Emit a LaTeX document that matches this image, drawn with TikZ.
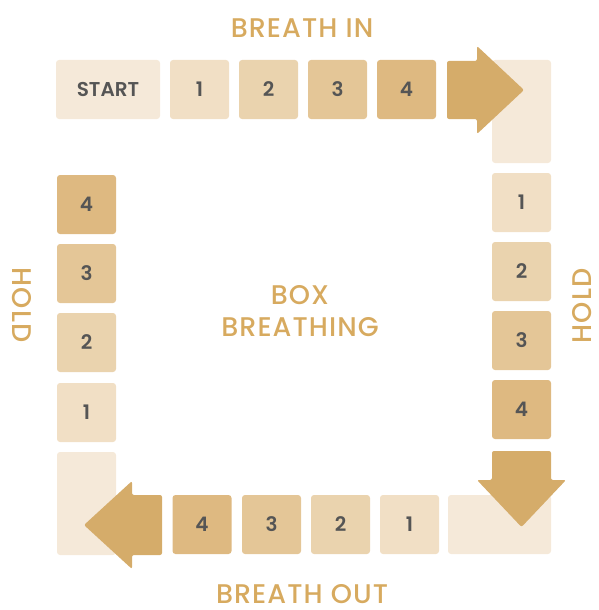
\documentclass[tikz,border=0pt]{standalone}
\usepackage{fontspec}
\setmainfont{Poppins}
\newfontfamily\titlefont{Poppins Medium}[LetterSpace=4]
\newfontfamily\numfont{Poppins SemiBold}
\definecolor{c0}{HTML}{F5E9D9}
\definecolor{c1}{HTML}{F1DFC5}
\definecolor{c2}{HTML}{EAD3AE}
\definecolor{c3}{HTML}{E4C697}
\definecolor{c4}{HTML}{DEB981}
\definecolor{arr}{HTML}{D5AC6A}
\definecolor{ttl}{HTML}{D7AA5F}
\definecolor{num}{HTML}{555555}
\tikzset{
  cell/.style={rectangle, rounded corners=3pt, inner sep=0pt, minimum width=59pt, minimum height=59pt, text=num, font=\numfont\fontsize{20}{20}\selectfont},
  title/.style={text=ttl, font=\titlefont\fontsize{27}{32}\selectfont, align=center, inner sep=0pt},
  arrowshape/.style={fill=arr, rounded corners=2pt}
}
\begin{document}
\begin{tikzpicture}[x=1pt,y=-1pt]
\useasboundingbox (0,0) rectangle (598,610);
% titles
\node[title] (tin) at (302,28) {BREATH IN};
\node[title] (tout) at (302,594) {BREATH OUT};
\node[title] (tbox) at (300,311) {BOX\\BREATHING};
\node[title, rotate=-90] (hl) at (22,305) {HOLD};
\node[title, rotate=90] (hr) at (582,306) {HOLD};
% corner light boxes
\node[cell, fill=c0, minimum height=103pt] (cr) at (521.5,111.5) {};
\node[cell, fill=c0, minimum width=103pt] (cb) at (499.5,524.5) {};
\node[cell, fill=c0, minimum height=103pt] (cl) at (86.5,503.5) {};
% top row
\node[cell, fill=c0, minimum width=104pt] (start) at (108,89.5) {START};
\node[cell, fill=c1] (t1) at (199.5,89.5) {1};
\node[cell, fill=c2] (t2) at (268.5,89.5) {2};
\node[cell, fill=c3] (t3) at (337.5,89.5) {3};
\node[cell, fill=c4] (t4) at (406.5,89.5) {4};
% right column
\node[cell, fill=c1] (r1) at (521.5,202.5) {1};
\node[cell, fill=c2] (r2) at (521.5,271.5) {2};
\node[cell, fill=c3] (r3) at (521.5,340.5) {3};
\node[cell, fill=c4] (r4) at (521.5,409.5) {4};
% bottom row
\node[cell, fill=c1] (b1) at (409.5,524.5) {1};
\node[cell, fill=c2] (b2) at (340.5,524.5) {2};
\node[cell, fill=c3] (b3) at (271.5,524.5) {3};
\node[cell, fill=c4] (b4) at (202,524.5) {4};
% left column
\node[cell, fill=c1] (l1) at (86.5,412.5) {1};
\node[cell, fill=c2] (l2) at (86.5,342.5) {2};
\node[cell, fill=c3] (l3) at (86.5,273.5) {3};
\node[cell, fill=c4] (l4) at (86.5,204.5) {4};
% arrows
\fill[arrowshape] (447,61) -- (477,61) -- (477,46) -- (524,90) -- (477,134) -- (477,119) -- (447,119) -- cycle;
\fill[arrowshape] (492,451) -- (551,451) -- (551,480) -- (566,480) -- (521.5,527) -- (477,480) -- (492,480) -- cycle;
\fill[arrowshape] (162,495) -- (162,555) -- (132,555) -- (132,569) -- (84,525) -- (132,481) -- (132,495) -- cycle;
\end{tikzpicture}
\end{document}
